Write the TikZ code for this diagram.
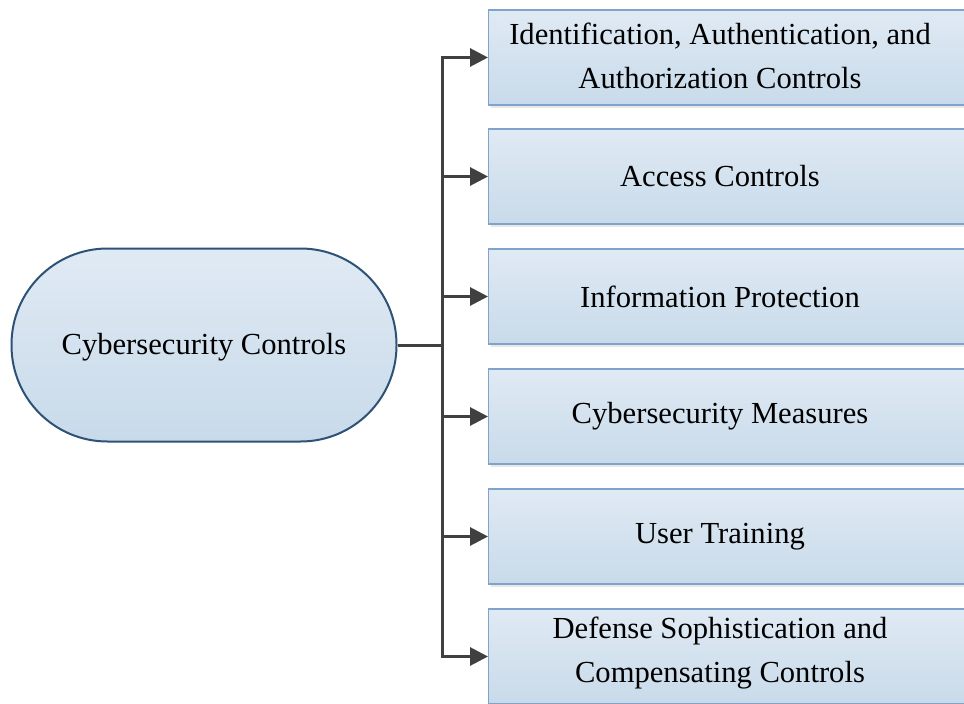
\documentclass[tikz,border=0pt]{standalone}
\usepackage{fontspec}
\setmainfont{Liberation Serif}
\usetikzlibrary{arrows.meta,shadows}
\definecolor{linegray}{HTML}{404040}
\definecolor{boxborder}{HTML}{7EA3CC}
\definecolor{ovalborder}{HTML}{2E5276}
\definecolor{filltop}{HTML}{E0EAF4}
\definecolor{fillbot}{HTML}{C8DAEA}
\tikzset{
  box/.style={draw=boxborder, line width=1.4pt, top color=filltop, bottom color=fillbot,
    minimum width=502pt, minimum height=95pt, anchor=west, inner sep=0pt,
    drop shadow={shadow xshift=2pt, shadow yshift=-2.5pt, fill=black!25, opacity=0.35}},
  oval/.style={draw=ovalborder, line width=2pt, top color=filltop, bottom color=fillbot,
    rounded corners=96pt, minimum width=385pt, minimum height=193pt, inner sep=0pt},
  lbl/.style={font=\fontsize{30.6}{44}\selectfont, align=center, inner sep=0pt},
  conn/.style={draw=linegray, line width=3pt},
  arr/.style={conn, -{Triangle[length=18pt,width=18pt]}},
}
\begin{document}
\begin{tikzpicture}[x=1pt,y=-1pt]
\clip (0,0) rectangle (964,704);
\fill[white] (0,0) rectangle (964,704);
\node[oval] (root) at (204,345) {};
\node[lbl] (rt) at (204,347) {Cybersecurity Controls};
\node[box] (b1) at (488,57.5) {};
\node[box] (b2) at (488,176.5) {};
\node[box] (b3) at (488,296.5) {};
\node[box] (b4) at (488,416.5) {};
\node[box] (b5) at (488,536.5) {};
\node[box] (b6) at (488,656.5) {};
\node[lbl] (t1) at (720,56) {Identification, Authentication, and\\Authorization Controls};
\node[lbl] (t2) at (720,176.5) {Access Controls};
\node[lbl] (t3) at (720,296.5) {Information Protection};
\node[lbl] (t4) at (720,416.5) {Cybersecurity Measures};
\node[lbl] (t5) at (720,536.5) {User Training};
\node[lbl] (t6) at (720,653) {Defense Sophistication and\\Compensating Controls};
\coordinate (j) at (442,345);
\coordinate (jt) at (442,57.5);
\coordinate (jb) at (442,656.5);
\draw[conn] (root.east) -- (j);
\draw[conn, line cap=rect] (jt) -- (jb);
\foreach \i in {1,...,6} {
  \draw[arr] (b\i.west -| j) -- (b\i.west);
}
\end{tikzpicture}
\end{document}
